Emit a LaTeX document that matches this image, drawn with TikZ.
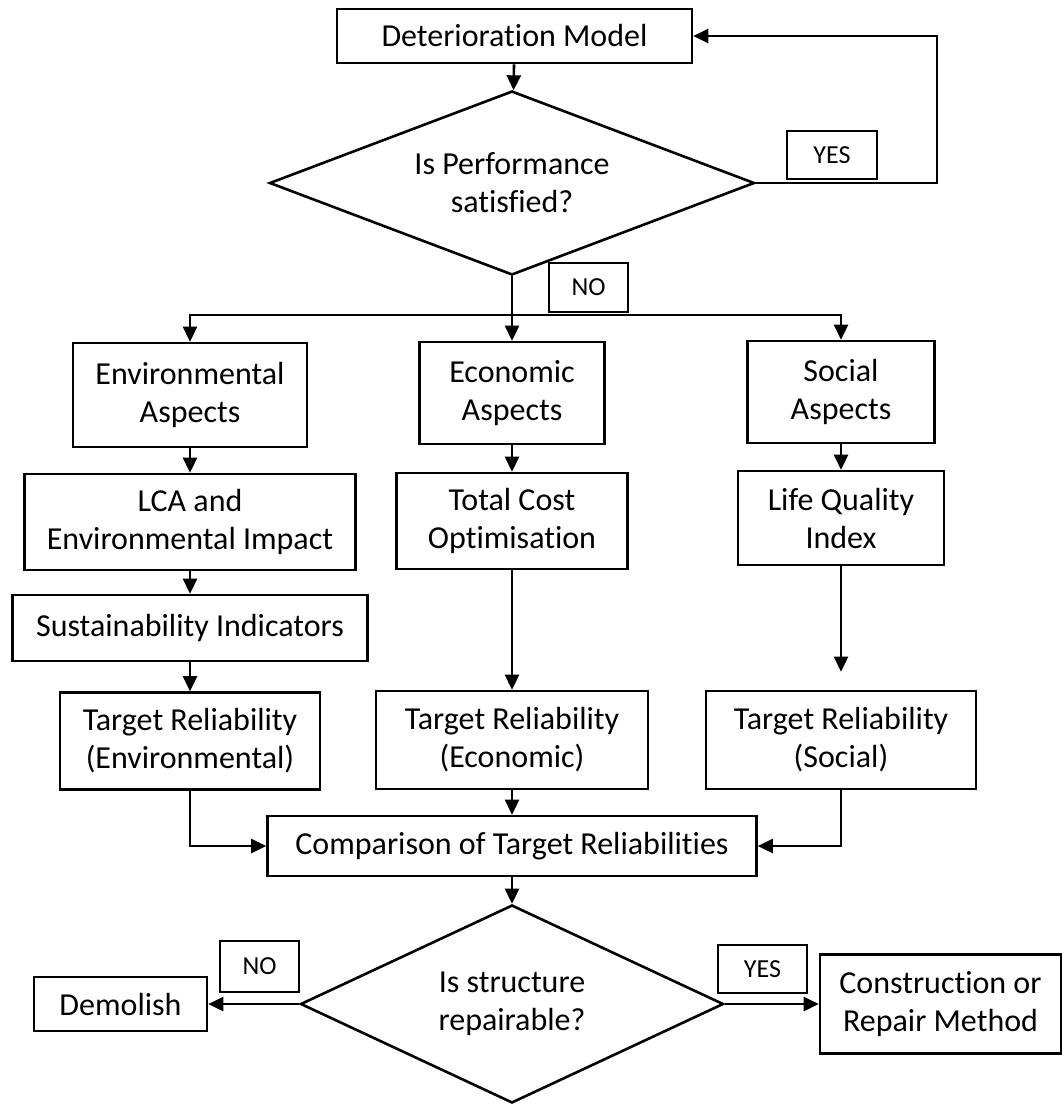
\documentclass[tikz,border=0pt]{standalone}
\usepackage{fontspec}
\setmainfont{Carlito}[Ligatures=NoCommon]
\usetikzlibrary{arrows.meta, shapes.geometric}
\tikzset{>/.tip={Triangle[length=15pt,width=14pt]}}
\tikzset{block/.style={draw, line width=2.6pt, align=center, inner sep=0pt, font=\fontsize{32}{38}\selectfont}}
\tikzset{decision/.style={diamond, draw, line width=2.6pt, align=center, inner sep=0pt, font=\fontsize{32}{38}\selectfont}}
\tikzset{tag/.style={draw, line width=2.6pt, inner sep=0pt, font=\fontsize{26}{30}\selectfont}}
\tikzset{flow/.style={line width=2.6pt, ->}}

\begin{document}
\begin{tikzpicture}[line join=miter,x=1pt,y=-1pt]
\useasboundingbox (0,0) rectangle (1062,1104);

\node[block, minimum width=355, minimum height=54] (det) at (514.5,36) {Deterioration Model};
\node[decision, aspect=2.64, minimum width=485, minimum height=184] (perf) at (512,183) {Is Performance\\satisfied?};
\node[tag, minimum width=90, minimum height=48] (yes1) at (832,155) {YES};
\node[tag, minimum width=79, minimum height=49] (no1) at (588.5,287.5) {NO};

\node[block, minimum width=234, minimum height=104] (env) at (190,395) {Environmental\\Aspects};
\node[block, minimum width=185, minimum height=102] (econ) at (512,393) {Economic\\Aspects};
\node[block, minimum width=187, minimum height=102] (soc) at (841,392) {Social\\Aspects};

\node[block, minimum width=331, minimum height=96] (lca) at (190,522) {LCA and\\Environmental Impact};
\node[block, minimum width=231, minimum height=96] (cost) at (512,521) {Total Cost\\Optimisation};
\node[block, minimum width=206, minimum height=94] (lqi) at (841,518) {Life Quality\\Index};
\node[block, minimum width=355, minimum height=66] (sust) at (190,628) {Sustainability Indicators};

\node[block, minimum width=260, minimum height=97] (trenv) at (190,741) {Target Reliability\\(Environmental)};
\node[block, minimum width=272, minimum height=98] (treco) at (512,740) {Target Reliability\\(Economic)};
\node[block, minimum width=270, minimum height=98] (trsoc) at (841,740) {Target Reliability\\(Social)};

\node[block, minimum width=489, minimum height=60] (comp) at (512,846) {Comparison of Target Reliabilities};
\node[decision, aspect=2.14, minimum width=423, minimum height=198] (rep) at (512,1004) {Is structure\\repairable?};
\node[block, minimum width=173, minimum height=54] (dem) at (120.5,1004) {Demolish};
\node[block, minimum width=241, minimum height=99] (constr) at (940.5,1004) {Construction or\\Repair Method};
\node[tag, minimum width=79, minimum height=51] (no2) at (259.5,966.5) {NO};
\node[tag, minimum width=89, minimum height=48] (yes2) at (762.5,969) {YES};

\coordinate (bus) at (512,315);

\draw[flow] (det) -- (perf);
\draw[flow] (perf.east) -- ++(181,0) |- (det.east);
\draw[flow] (perf) -- (econ);
\draw[flow] (bus) -| (env);
\draw[flow] (bus) -| (soc);

\draw[flow] (env) -- (lca);
\draw[flow] (lca) -- (sust);
\draw[flow] (sust) -- (trenv);
\draw[flow] (econ) -- (cost);
\draw[flow] (cost) -- (treco);
\draw[flow] (soc) -- (lqi);
\draw[flow, shorten >=18pt] (lqi) -- (trsoc);

\draw[flow] (trenv) |- (comp);
\draw[flow] (treco) -- (comp);
\draw[flow] (trsoc) |- (comp);
\draw[flow] (comp) -- (rep);
\draw[flow] (rep) -- (dem);
\draw[flow] (rep) -- (constr);

\end{tikzpicture}
\end{document}
